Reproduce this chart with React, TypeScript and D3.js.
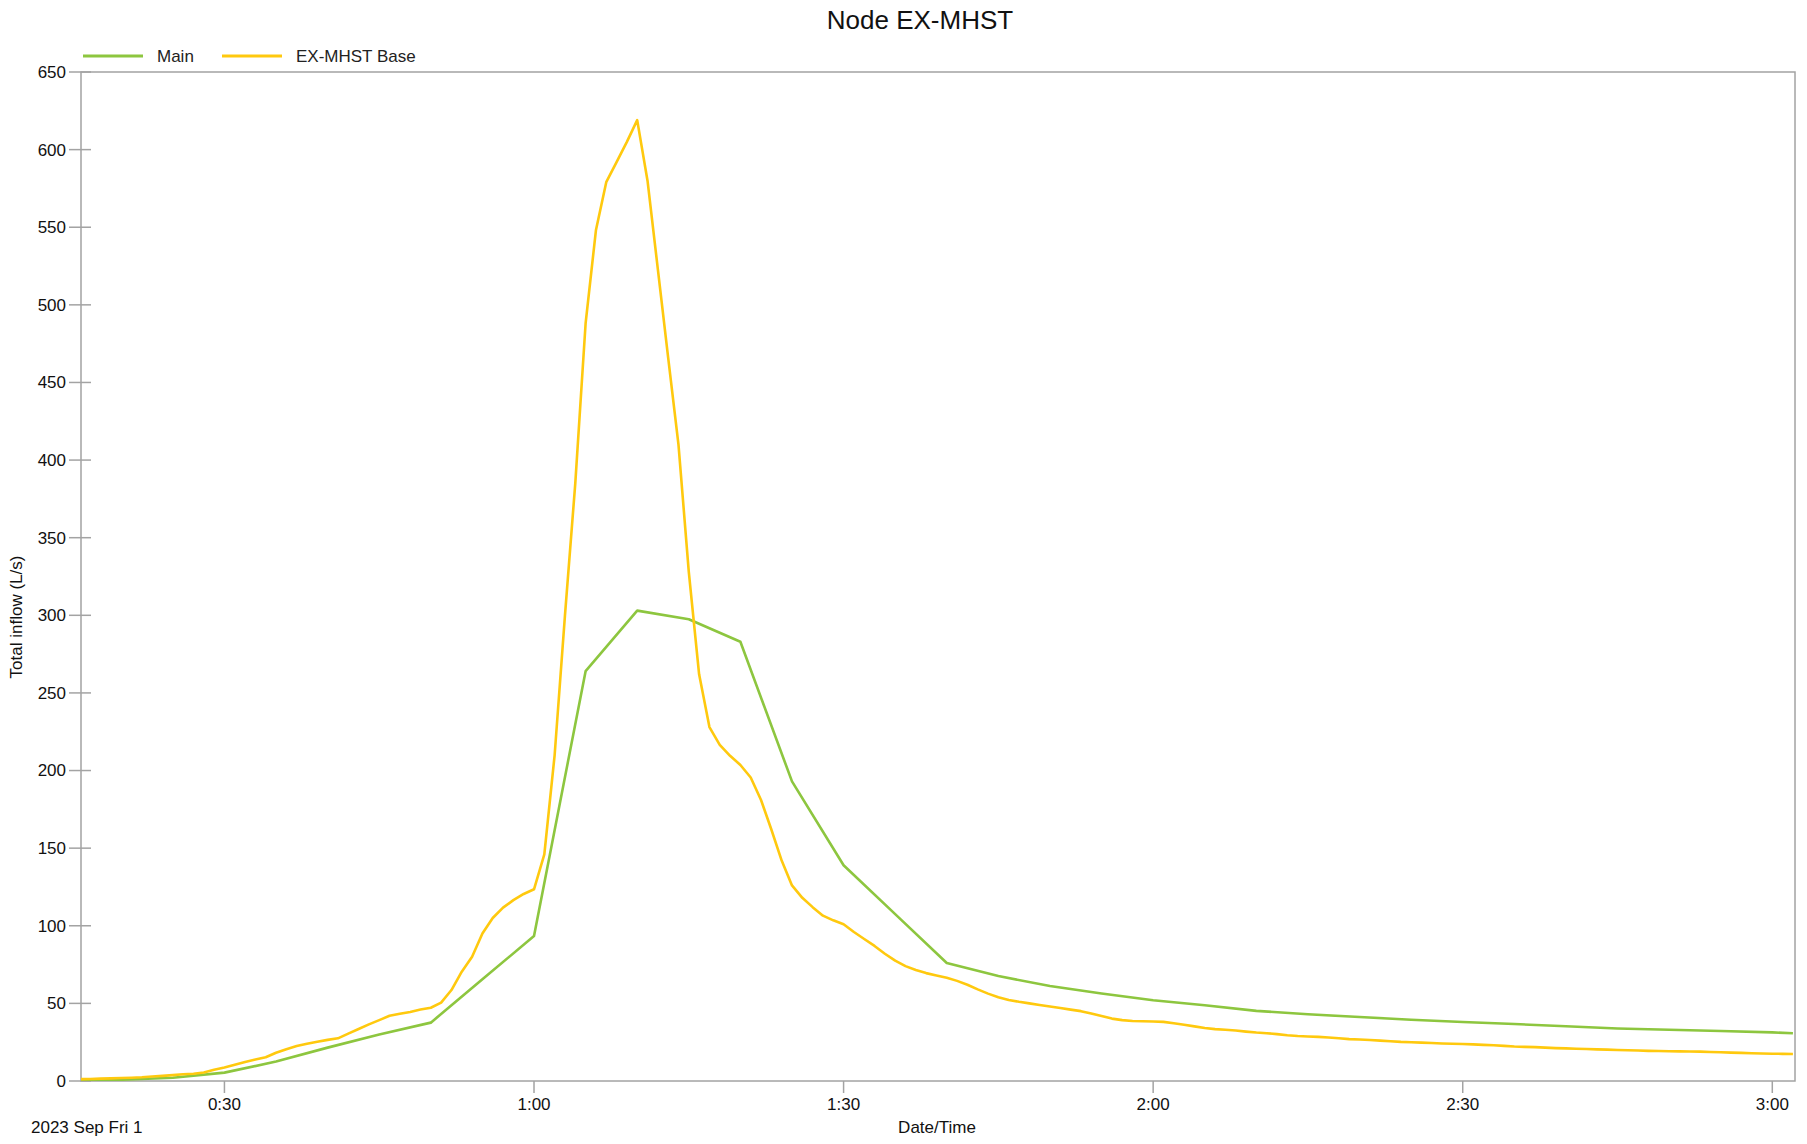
import React from "react";
import * as d3 from "d3";

// ---- data (minutes after midnight, L/s) ----
const mainMinutes = [16, 20, 25, 30, 35, 40, 45, 50, 55, 60, 65, 70, 75, 80, 85, 90, 95, 100, 105, 110, 115, 120, 125, 130, 135, 140, 145, 150, 155, 160, 165, 170, 175, 180, 182];
const mainValues = [0.3, 0.8, 2.1, 5.4, 12.5, 21.5, 30, 37.6, 65.5, 93.4, 264, 303, 297.5, 283, 193, 139, 107.5, 76, 67.6, 61.2, 56.4, 52, 48.8, 45.2, 43, 41.2, 39.5, 38, 36.7, 35.3, 33.8, 33, 32.2, 31.3, 30.8];

const baseStartMinute = 16;
const baseValues = [
  1.2, 1.3, 1.5, 1.7, 1.9, 2.1, 2.4, 2.9, 3.3, 3.8, // 16-25
  4.3, 4.7, 5.5, 7.2, 8.7, 10.5, 12.3, 13.8, 15.3, 18.2, // 26-35
  20.5, 22.5, 24, 25.3, 26.5, 27.5, 30.5, 33.5, 36.5, 39.2, // 36-45
  42, 43.3, 44.5, 46, 47.2, 50.5, 58.6, 70.4, 80, 95, // 46-55
  105, 111.7, 116.5, 120.5, 123.5, 146, 210, 300, 385, 488, // 56-65
  548, 579, 592, 605, 619, 580, 523, 466, 410, 328, // 66-75
  262, 228, 216.5, 209.5, 203.6, 195.5, 181, 162, 142, 126, // 76-85
  118, 112, 106.5, 103.5, 101, 96, 91.5, 87, 82, 77.5, // 86-95
  74, 71.5, 69.5, 68, 66.5, 64.5, 62, 59, 56.3, 54, // 96-105
  52.2, 51, 50, 49, 48, 47, 46, 45, 43.5, 41.8, // 106-115
  40.2, 39.2, 38.7, 38.5, 38.3, 38.1, 37.2, 36.2, 35.2, 34.1, // 116-125
  33.4, 33, 32.5, 31.8, 31.2, 30.8, 30.2, 29.5, 29, 28.7, // 126-135
  28.4, 28, 27.5, 27, 26.7, 26.4, 26, 25.6, 25.2, 25, // 136-145
  24.7, 24.5, 24.2, 24, 23.8, 23.6, 23.3, 23, 22.6, 22.2, // 146-155
  22, 21.8, 21.5, 21.2, 21, 20.8, 20.6, 20.4, 20.2, 20, // 156-165
  19.8, 19.6, 19.4, 19.3, 19.2, 19.1, 19, 18.9, 18.7, 18.5, // 166-175
  18.3, 18.1, 17.9, 17.7, 17.6, 17.5, 17.4, // 176-182
];

const yTicks = [0, 50, 100, 150, 200, 250, 300, 350, 400, 450, 500, 550, 600, 650];
const xTicks = [30, 60, 90, 120, 150, 180];
const xTickLabels = ["0:30", "1:00", "1:30", "2:00", "2:30", "3:00"];

const seriesNames = ["Main", "EX-MHST Base"];
const seriesColors = ["#8dc63f", "#ffc90e"];

const W = 1807;
const H = 1144;
const plot = { left: 81, right: 1795, top: 72, bottom: 1081 };
const FONT = "'Liberation Sans', Arial, sans-serif";
const AXIS = "#a3a3a3";

export default function App() {
  const x = d3.scaleLinear().domain([16.1, 182.2]).range([plot.left, plot.right]);
  const y = d3.scaleLinear().domain([0, 650]).range([plot.bottom, plot.top]);

  const mainData = mainMinutes.map((m, i) => [m, mainValues[i]] as [number, number]);
  const baseData = baseValues.map((v, i) => [baseStartMinute + i, v] as [number, number]);

  const line = d3
    .line<[number, number]>()
    .x((d) => x(d[0]))
    .y((d) => y(d[1]));

  const series = [mainData, baseData];

  return (
    <svg
      width={W}
      height={H}
      style={{ position: "absolute", left: 0, top: 0, background: "#fff" }}
      fontFamily={FONT}
    >
      <defs>
        <clipPath id="plotclip">
          <rect x={plot.left} y={plot.top} width={plot.right - plot.left} height={plot.bottom - plot.top} />
        </clipPath>
      </defs>

      {/* title */}
      <text x={920} y={29} textAnchor="middle" fontSize={26} fill="#111">
        Node EX-MHST
      </text>

      {/* legend */}
      {seriesNames.map((name, i) => {
        const lx = i === 0 ? 83 : 222;
        return (
          <g key={name}>
            <line x1={lx} x2={lx + 60} y1={56} y2={56} stroke={seriesColors[i]} strokeWidth={3} />
            <text x={lx + 74} y={62} fontSize={17} fill="#222">
              {name}
            </text>
          </g>
        );
      })}

      {/* plot frame */}
      <rect
        x={plot.left}
        y={plot.top}
        width={plot.right - plot.left}
        height={plot.bottom - plot.top}
        fill="none"
        stroke={AXIS}
        strokeWidth={1.5}
      />

      {/* y axis ticks */}
      {yTicks.map((t) => (
        <g key={"y" + t}>
          <line x1={plot.left - 12} x2={plot.left + 10} y1={y(t)} y2={y(t)} stroke={AXIS} strokeWidth={1.5} />
          <text x={66} y={y(t)} dy="0.35em" textAnchor="end" fontSize={17} fill="#111">
            {t}
          </text>
        </g>
      ))}

      {/* x axis ticks */}
      {xTicks.map((t, i) => (
        <g key={"x" + t}>
          <line x1={x(t)} x2={x(t)} y1={plot.bottom} y2={plot.bottom + 12} stroke={AXIS} strokeWidth={1.5} />
          <text x={x(t)} y={1110} textAnchor="middle" fontSize={17} fill="#111">
            {xTickLabels[i]}
          </text>
        </g>
      ))}

      <text x={31} y={1133} fontSize={17} fill="#111">
        2023 Sep Fri 1
      </text>
      <text x={937} y={1133} textAnchor="middle" fontSize={17} fill="#111">
        Date/Time
      </text>
      <text transform="translate(22,617) rotate(-90)" textAnchor="middle" fontSize={17} fill="#111">
        Total inflow (L/s)
      </text>

      {/* series */}
      <g clipPath="url(#plotclip)">
        {series.map((d, i) => (
          <path
            key={seriesNames[i]}
            d={line(d) || ""}
            fill="none"
            stroke={seriesColors[i]}
            strokeWidth={2.6}
            strokeLinejoin="round"
          />
        ))}
      </g>
    </svg>
  );
}
